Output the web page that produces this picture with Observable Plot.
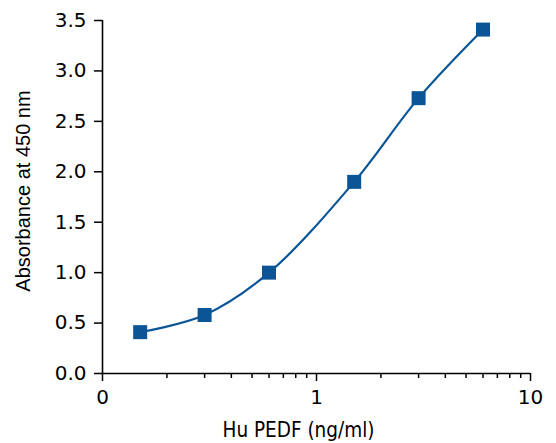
<!DOCTYPE html>
<html>
<head>
<meta charset="utf-8">
<script src="https://cdn.jsdelivr.net/npm/d3@7"></script>
<script src="https://cdn.jsdelivr.net/npm/@observablehq/plot@0.6"></script>
<style>
  html, body { margin: 0; padding: 0; background: #fff; }
</style>
</head>
<body>
<div id="chart"></div>
<script>
// Data
const concentration = [0.15, 0.3, 0.6, 1.5, 3, 6];          // Hu PEDF (ng/ml)
const absorbance    = [0.41, 0.58, 1.00, 1.90, 2.73, 3.41]; // Absorbance at 450 nm

const xMajorTicks  = [0.1, 1, 10];
const xMajorLabels = ["0", "1", "10"];
const xMinorTicks  = [0.2, 0.3, 0.4, 0.5, 0.6, 0.7, 0.8, 0.9, 2, 3, 4, 5, 6, 7, 8, 9];
const yTicks       = [0, 0.5, 1, 1.5, 2, 2.5, 3, 3.5];

const xLabel = "Hu PEDF (ng/ml)";
const yLabel = "Absorbance at 450 nm";

const data = concentration.map((c, i) => ({x: c, y: absorbance[i]}));
const blue = "#0b5597";
const tickFont = "DejaVu Sans";

const chart = Plot.plot({
  width: 556,
  height: 443,
  marginLeft: 102,
  marginRight: 26,
  marginTop: 20,
  marginBottom: 70,
  style: {background: "#fff", color: "#000", fontFamily: "Liberation Sans, Arial, sans-serif"},
  x: {type: "log", domain: [0.1, 10]},
  y: {domain: [0, 3.5]},
  marks: [
    Plot.axisY({
      ticks: yTicks,
      tickFormat: d => d.toFixed(1),
      tickSize: 8,
      tickPadding: 8,
      strokeWidth: 1.5,
      fontSize: 20,
      fontFamily: tickFont,
      label: null
    }),
    Plot.axisX({
      ticks: xMinorTicks,
      tickSize: 5,
      strokeWidth: 1.5,
      tickFormat: () => "",
      label: null
    }),
    Plot.axisX({
      ticks: xMajorTicks,
      tickFormat: (d, i) => xMajorLabels[xMajorTicks.indexOf(d)],
      tickSize: 8,
      tickPadding: 8,
      strokeWidth: 1.5,
      fontSize: 20,
      fontFamily: tickFont,
      label: null
    }),
    Plot.ruleY([0], {strokeWidth: 1.6}),
    Plot.ruleX([0.1], {strokeWidth: 1.6}),
    Plot.line(data, {x: "x", y: "y", curve: "catmull-rom", stroke: blue, strokeWidth: 2.2}),
    Plot.dot(data, {x: "x", y: "y", symbol: "square", r: 7.9, fill: blue, stroke: null}),
    Plot.text([xLabel], {
      frameAnchor: "bottom", textAnchor: "middle", lineAnchor: "middle", dx: -18, dy: 57,
      fontSize: 20.5, fontFamily: "DejaVu Sans Condensed, DejaVu Sans", fill: "#000"
    }),
    Plot.text([yLabel], {
      frameAnchor: "left", textAnchor: "middle", lineAnchor: "middle", rotate: -90, dx: -79, dy: -6,
      fontSize: 20, fontFamily: "Liberation Sans, Arial", fill: "#000"
    })
  ]
});

document.getElementById("chart").appendChild(chart);
</script>
</body>
</html>
